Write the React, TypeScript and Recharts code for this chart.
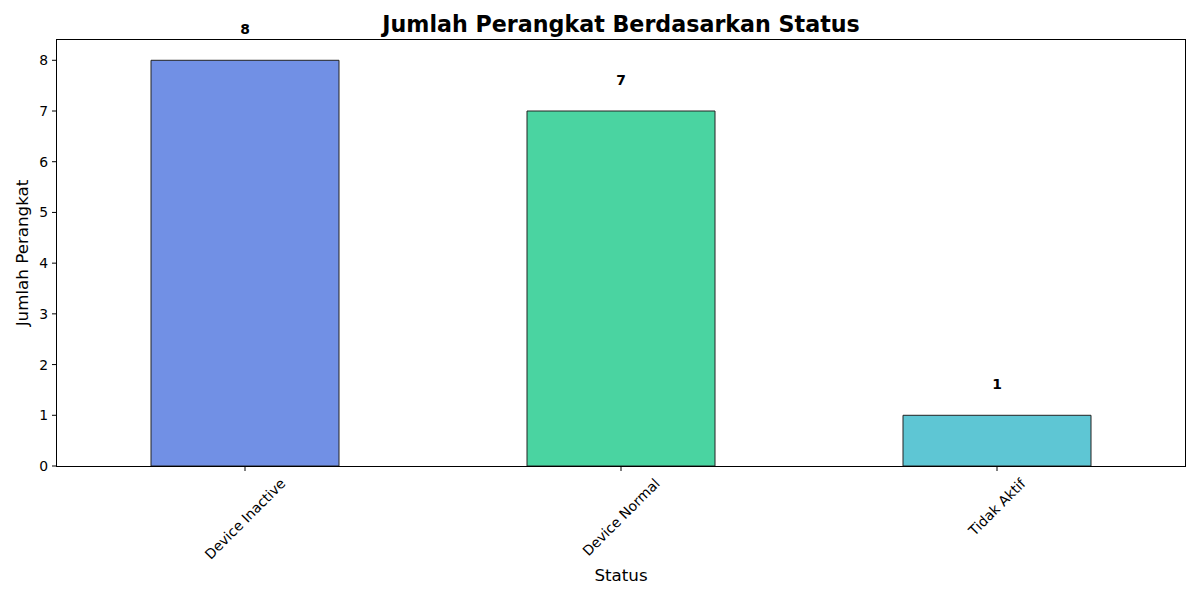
import { Bar, BarChart, Cell, LabelList, XAxis, YAxis } from "recharts";

const statuses = ["Device Inactive", "Device Normal", "Tidak Aktif"];
const deviceCounts = [8, 7, 1];
const barColors = ["#7190e5", "#4ad4a1", "#5ec6d4"];
const yTicks = [0, 1, 2, 3, 4, 5, 6, 7, 8];

const data = statuses.map((status, i) => ({
  status,
  count: deviceCounts[i],
}));

const FONT = "'DejaVu Sans', sans-serif";
const TICK_SIZE = 13.9;

let measureCtx: CanvasRenderingContext2D | null = null;

function textWidth(text: string): number {
  if (!measureCtx) {
    measureCtx = document.createElement("canvas").getContext("2d");
  }
  if (!measureCtx) return text.length * 7;
  measureCtx.font = `${TICK_SIZE}px 'DejaVu Sans'`;
  return measureCtx.measureText(text).width;
}

function RotatedTick({ x, y, payload }: any) {
  const label = String(payload.value);
  const w = textWidth(label);
  // rotated box is top-aligned under the tick, like matplotlib's rotation=45
  const cy = y + ((w + TICK_SIZE) * Math.SQRT1_2) / 2;

  return (
    <text
      x={x}
      y={cy}
      textAnchor="middle"
      dominantBaseline="central"
      transform={`rotate(-45, ${x}, ${cy})`}
      fontFamily={FONT}
      fontSize={TICK_SIZE}
      fill="#000"
    >
      {label}
    </text>
  );
}

function ValueLabel({ x, y, width, value }: any) {
  return (
    <text
      x={x + width / 2}
      y={y - 26}
      textAnchor="middle"
      fontFamily={FONT}
      fontSize={TICK_SIZE}
      fontWeight="bold"
      fill="#000"
    >
      {value}
    </text>
  );
}

export default function App() {
  return (
    <div
      style={{
        position: "fixed",
        left: 0,
        top: 0,
        width: 1200,
        height: 600,
        background: "#fff",
        fontFamily: FONT,
      }}
    >
      <div
        style={{
          position: "absolute",
          left: 57,
          width: 1128,
          top: 11,
          textAlign: "center",
          fontSize: 22.2,
          fontWeight: "bold",
          lineHeight: "26px",
          color: "#000",
        }}
      >
        Jumlah Perangkat Berdasarkan Status
      </div>

      <BarChart
        width={1200}
        height={600}
        data={data}
        barCategoryGap="25%"
        margin={{ top: 40, right: 15, bottom: 0, left: 0 }}
      >
        <XAxis
          dataKey="status"
          height={134}
          interval={0}
          axisLine={false}
          tickLine={{ stroke: "#000" }}
          tickSize={5}
          tickMargin={5}
          tick={<RotatedTick />}
        />
        <YAxis
          domain={[0, 8.4]}
          ticks={yTicks}
          width={57}
          axisLine={false}
          tickLine={{ stroke: "#000" }}
          tickSize={5}
          tickMargin={4}
          allowDecimals={false}
          tick={{ fill: "#000", fontSize: TICK_SIZE, fontFamily: FONT }}
        />
        <Bar
          dataKey="count"
          stroke="#222222"
          strokeWidth={1}
          isAnimationActive={false}
        >
          {data.map((d, i) => (
            <Cell key={d.status} fill={barColors[i]} />
          ))}
          <LabelList dataKey="count" content={<ValueLabel />} />
        </Bar>
      </BarChart>

      {/* axes frame: all four spines */}
      <div
        style={{
          position: "absolute",
          left: 56,
          top: 39,
          width: 1130,
          height: 428,
          border: "1px solid #000",
          boxSizing: "border-box",
          pointerEvents: "none",
        }}
      />

      <div
        style={{
          position: "absolute",
          left: 57,
          width: 1128,
          top: 565,
          textAlign: "center",
          fontSize: 16.7,
          lineHeight: "20px",
          color: "#000",
        }}
      >
        Status
      </div>

      <div
        style={{
          position: "absolute",
          left: 22,
          top: 253,
          transform: "translate(-50%, -50%) rotate(-90deg)",
          whiteSpace: "nowrap",
          fontSize: 16.7,
          lineHeight: "20px",
          color: "#000",
        }}
      >
        Jumlah Perangkat
      </div>
    </div>
  );
}
